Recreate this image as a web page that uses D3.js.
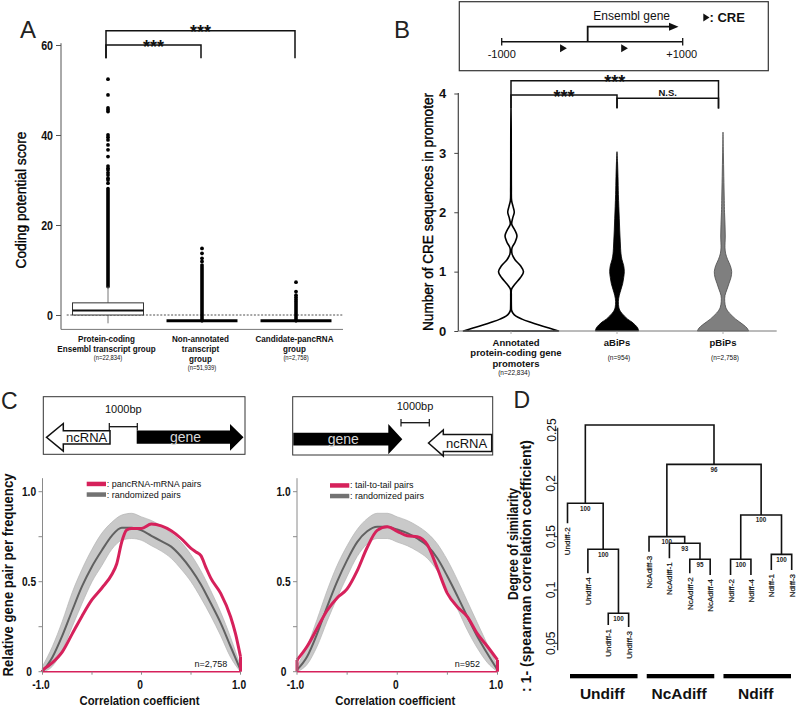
<!DOCTYPE html>
<html><head><meta charset="utf-8">
<script src="https://cdn.jsdelivr.net/npm/d3@7/dist/d3.min.js"></script>
<style>html,body{margin:0;padding:0;background:#fff}svg{display:block}</style>
</head><body>
<svg id="fig" width="796" height="706" xmlns="http://www.w3.org/2000/svg"></svg>
<script>
// ================= DATA =================
// Panel A: coding potential score box plots
const aGroups = ["protein-coding", "non-annotated", "candidate-pancRNA"];
const aLabelLines = [["Protein-coding", "Ensembl transcript group"], ["Non-annotated", "transcript", "group"], ["Candidate-pancRNA", "group"]];
const aCounts = ["(n=22,834)", "(n=51,939)", "(n=2,758)"];
const aQ1 = [0, -1.3, -1.3];
const aMedian = [1.0, -1.3, -1.3];
const aQ3 = [2.7, -1.3, -1.3];
const aWhiskerLow = [-1.85, -1.3, -1.3];
const aWhiskerHigh = [6.3, -1.3, -1.3];
const aDenseLow = [6.3, -1.3, -1.3];      // densely packed outliers (drawn as solid stack)
const aDenseHigh = [28.1, 10.7, 3.0];
const aOutliers = [
  [52.4, 48.9, 46.0, 45.6, 45.2, 40.0, 39.5, 38.9, 37.8, 36.7, 35.2, 33.1, 32.6, 32.2, 31.6, 31.1, 30.4, 30.0, 29.3],
  [14.8, 13.7, 12.6, 11.9, 11.1],
  [7.3, 5.2, 4.4, 3.9, 3.4]
];
const aTicks = [0, 20, 40, 60];
const aSigPairs = [[0, 2], [0, 1]];
const aSigLabels = ["***", "***"];

// Panel B: CRE counts violins
const bGroups = ["annotated", "aBiPs", "pBiPs"];
const bLabelLines = [["Annotated", "protein-coding gene", "promoters"], ["aBiPs"], ["pBiPs"]];
const bCounts = ["(n=22,834)", "(n=954)", "(n=2,758)"];
const bTicks = [0, 1, 2, 3, 4];
const bTickLabels = ["0", "1", "2", "3", "4"];
const bViolinY = [
  [0, 0.05, 0.1, 0.15, 0.2, 0.25, 0.3, 0.35, 0.4, 0.5, 0.6, 0.7, 0.75, 0.8, 0.9, 1.0, 1.1, 1.2, 1.3, 1.4, 1.5, 1.6, 1.7, 1.8, 1.9, 2.0, 2.1, 2.2, 2.4, 2.6, 3.0, 3.4, 3.75],
  [0, 0.05, 0.1, 0.15, 0.2, 0.25, 0.3, 0.35, 0.4, 0.5, 0.6, 0.7, 0.8, 0.9, 1.0, 1.1, 1.2, 1.3, 1.5, 1.7, 1.9, 2.1, 2.3, 2.6, 2.85, 3.02],
  [0, 0.05, 0.1, 0.15, 0.2, 0.25, 0.3, 0.35, 0.4, 0.5, 0.6, 0.7, 0.8, 0.9, 1.0, 1.1, 1.2, 1.3, 1.4, 1.6, 1.8, 2.0, 2.2, 2.6, 3.0, 3.35]
];
const bViolinDensity = [
  [1.0, 0.8, 0.59, 0.4, 0.232, 0.105, 0.042, 0.012, 0.008, 0.006, 0.006, 0.01, 0.046, 0.095, 0.2, 0.263, 0.2, 0.084, 0.022, 0.022, 0.088, 0.126, 0.08, 0.015, 0.035, 0.069, 0.042, 0.012, 0.007, 0.006, 0.005, 0.004, 0],
  [0.457, 0.436, 0.385, 0.316, 0.225, 0.158, 0.101, 0.059, 0.038, 0.029, 0.048, 0.084, 0.12, 0.141, 0.154, 0.141, 0.105, 0.084, 0.069, 0.057, 0.048, 0.038, 0.029, 0.021, 0.011, 0],
  [0.541, 0.505, 0.436, 0.352, 0.267, 0.2, 0.137, 0.088, 0.057, 0.036, 0.042, 0.084, 0.126, 0.168, 0.183, 0.154, 0.099, 0.057, 0.042, 0.048, 0.042, 0.032, 0.027, 0.017, 0.008, 0]
];
const bSigPairs = [[0, 2], [0, 1], [1, 2]];
const bSigLabels = ["***", "***", "N.S."];
const bPromoterEnds = [-1000, 1000];
const bTss = -50;
const bCrePositions = [-355, 320];

// Panel C: correlation coefficient distributions
const cX = [-1, -0.9, -0.8, -0.7, -0.6, -0.5, -0.4, -0.3, -0.2, -0.1, 0, 0.1, 0.2, 0.3, 0.4, 0.5, 0.6, 0.7, 0.8, 0.9, 1.0];
const cLeftMean  = [0, 0.08, 0.2, 0.34, 0.475, 0.585, 0.675, 0.755, 0.8, 0.8, 0.785, 0.755, 0.725, 0.695, 0.64, 0.57, 0.485, 0.38, 0.27, 0.14, 0.01];
const cLeftUpper = [0.03, 0.14, 0.28, 0.44, 0.57, 0.68, 0.77, 0.83, 0.87, 0.88, 0.86, 0.84, 0.81, 0.77, 0.72, 0.65, 0.56, 0.45, 0.33, 0.19, 0.03];
const cLeftLower = [0, 0.03, 0.12, 0.25, 0.38, 0.5, 0.59, 0.68, 0.73, 0.74, 0.73, 0.7, 0.67, 0.63, 0.57, 0.5, 0.41, 0.31, 0.2, 0.08, 0];
const cLeftRedX = [-1, -0.9, -0.8, -0.7, -0.6, -0.5, -0.4, -0.3, -0.25, -0.2, -0.15, -0.1, 0, 0.1, 0.2, 0.3, 0.4, 0.5, 0.55, 0.6, 0.65, 0.7, 0.8, 0.9, 0.95, 1.0];
const cLeftRed  = [0.01, 0.05, 0.11, 0.21, 0.31, 0.40, 0.465, 0.54, 0.60, 0.72, 0.787, 0.796, 0.796, 0.82, 0.81, 0.783, 0.74, 0.685, 0.665, 0.645, 0.58, 0.52, 0.435, 0.305, 0.21, 0.083];
const cRightMean  = [0.01, 0.083, 0.21, 0.36, 0.5, 0.62, 0.72, 0.78, 0.805, 0.805, 0.79, 0.77, 0.74, 0.70, 0.63, 0.53, 0.42, 0.305, 0.194, 0.1, 0.01];
const cRightUpper = [0.03, 0.14, 0.29, 0.45, 0.59, 0.7, 0.79, 0.85, 0.88, 0.88, 0.86, 0.84, 0.81, 0.77, 0.71, 0.62, 0.51, 0.39, 0.27, 0.15, 0.03];
const cRightLower = [0, 0.04, 0.14, 0.28, 0.41, 0.53, 0.64, 0.71, 0.74, 0.74, 0.72, 0.7, 0.67, 0.63, 0.56, 0.46, 0.35, 0.23, 0.13, 0.05, 0];
const cRightRed   = [0.065, 0.14, 0.24, 0.34, 0.41, 0.46, 0.56, 0.69, 0.785, 0.805, 0.78, 0.755, 0.75, 0.705, 0.575, 0.435, 0.36, 0.305, 0.21, 0.14, 0.065];
const cYTicks = [0, 0.25, 0.5, 0.75, 1.0];
const cYTickLabels = ["0", "", "0.5", "", "1.0"];
const cXTicks = [-1, -0.5, 0, 0.5, 1];
const cXTickLabels = ["-1.0", "", "0", "", "1.0"];

// Panel D: dendrogram
const dLeaves = ["Undiff-2", "Undiff-4", "Undiff-1", "Undiff-3", "NcAdiff-3", "NcAdiff-1", "NcAdiff-2", "NcAdiff-4", "Ndiff-2", "Ndiff-4", "Ndiff-1", "Ndiff-3"];
const dLeafEnd = [0.1625, 0.1157, 0.0672, 0.0653, 0.1359, 0.1297, 0.1157, 0.114, 0.114, 0.114, 0.1188, 0.1188];
const dMerge = [[-3, -4], [-2, 1], [-1, 2], [-7, -8], [-6, 4], [-5, 5], [-9, -10], [-11, -12], [7, 8], [6, 9], [3, 10]];
const dHeight = [0.0782, 0.1382, 0.1813, 0.1288, 0.1438, 0.15, 0.1288, 0.1334, 0.1703, 0.2178, 0.2547];
const dBoot = ["100", "100", "100", "95", "93", "100", "100", "100", "100", "96", ""];
const dGroups = ["Undiff", "NcAdiff", "Ndiff"];
const dTicks = [0.05, 0.1, 0.15, 0.2, 0.25];
const dTickLabels = ["0.05", "0.1", "0.15", "0.2", "0.25"];

// ================= DRAWING =================
const FONT = '"Liberation Sans", Arial, Helvetica, sans-serif';
const RED = "#d6215b";
const svg = d3.select("#fig").attr("font-family", FONT);
svg.append("rect").attr("width", 796).attr("height", 706).attr("fill", "#fff");

function T(g, x, y, s, o = {}) {
  const t = g.append("text").attr("x", x).attr("y", y).text(s)
    .attr("font-size", o.size || 10)
    .attr("font-weight", o.weight || "normal")
    .attr("text-anchor", o.anchor || "middle")
    .attr("fill", o.fill || "#111");
  if (o.stroke) t.attr("stroke", o.fill || "#111").attr("stroke-width", o.stroke);
  if (o.rot) t.attr("transform", `rotate(${o.rot},${x},${y})`);
  if (o.len) t.attr("textLength", o.len).attr("lengthAdjust", "spacingAndGlyphs");
  else if (o.sq) {
    const L = t.node().getComputedTextLength();
    t.attr("textLength", L * o.sq).attr("lengthAdjust", "spacingAndGlyphs");
  }
  return t;
}
function L(g, x1, y1, x2, y2, stroke = "#111", w = 1) {
  return g.append("line").attr("x1", x1).attr("y1", y1).attr("x2", x2).attr("y2", y2)
    .attr("stroke", stroke).attr("stroke-width", w);
}
function poly(g, pts, fill, stroke, w) {
  return g.append("polygon").attr("points", pts.map(p => p.join(",")).join(" "))
    .attr("fill", fill).attr("stroke", stroke || "none").attr("stroke-width", w || 0);
}

// ---------- Panel A ----------
const gA = svg.append("g");
T(gA, 20, 38, "A", {size: 24, anchor: "start", fill: "#222"});
const yA = d3.scaleLinear().domain([0, 60]).range([315, 45]);
const xA = d3.scaleBand().domain(aGroups).range([61, 343]);
const cxA = i => xA(aGroups[i]) + xA.bandwidth() / 2;
const boxW = xA.bandwidth() * 0.755;
L(gA, 61, yA(60.4), 61, yA(-3.2), "#555", 1);
L(gA, 61, yA(-3.2), 343, yA(-3.2), "#777", 1);
const axA = gA.append("g").attr("transform", "translate(61,0)")
  .call(d3.axisLeft(yA).tickValues(aTicks).tickFormat(d3.format("d")).tickSize(5).tickPadding(3));
axA.attr("font-family", FONT).attr("font-size", 13);
axA.select(".domain").remove();
axA.selectAll(".tick line").attr("stroke", "#555");
axA.selectAll(".tick text").attr("font-weight", "bold").attr("fill", "#111").each(function () {
  const l = this.getComputedTextLength();
  d3.select(this).attr("textLength", l * 0.82).attr("lengthAdjust", "spacingAndGlyphs");
});
L(gA, 66.7, yA(0), 343, yA(0), "#222", 0.8).attr("stroke-dasharray", "2,1.6");
aGroups.forEach((g, i) => {
  const cx = cxA(i);
  gA.append("line").attr("x1", cx).attr("x2", cx).attr("y1", yA(aDenseLow[i])).attr("y2", yA(aDenseHigh[i]))
    .attr("stroke", "#000").attr("stroke-width", 3.6).attr("stroke-linecap", "round");
  gA.selectAll(null).data(aOutliers[i]).join("circle")
    .attr("cx", cx).attr("cy", d => yA(d)).attr("r", 1.9).attr("fill", "#000");
  if (aQ3[i] > aQ1[i]) {
    L(gA, cx, yA(aQ3[i]), cx, yA(aWhiskerHigh[i]), "#777", 1);
    L(gA, cx, yA(aQ1[i]), cx, yA(aWhiskerLow[i]), "#777", 1);
    gA.append("rect").attr("x", cx - boxW / 2).attr("y", yA(aQ3[i])).attr("width", boxW)
      .attr("height", yA(aQ1[i]) - yA(aQ3[i])).attr("fill", "#fff").attr("stroke", "#333").attr("stroke-width", 1);
    L(gA, cx - boxW / 2, yA(aMedian[i]), cx + boxW / 2, yA(aMedian[i]), "#111", 1.8);
  } else {
    L(gA, cx - boxW / 2, yA(aMedian[i]), cx + boxW / 2, yA(aMedian[i]), "#000", 3);
  }
  aLabelLines[i].forEach((s, j) => T(gA, cx - 1.5, 341.5 + j * 10, s, {size: 9.5, weight: "bold", sq: 0.85}));
  T(gA, cx, 341.5 + (aLabelLines[i].length - 1) * 10 + 8.5, aCounts[i], {size: 6.5, sq: 0.9});
});
T(gA, 25.5, 200, "Coding potential score", {size: 14, rot: -90, len: 137, fill: "#000", stroke: 0.35});
const aBracketY = [30.7, 45];
aSigPairs.forEach(([a, b], k) => {
  const x1 = cxA(a) - 2, x2 = cxA(b) - 1, yb = aBracketY[k];
  gA.append("path").attr("d", `M${x1},58.3V${yb}H${x2}V58.3`).attr("fill", "none")
    .attr("stroke", "#111").attr("stroke-width", 1.5);
  T(gA, (x1 + x2) / 2, yb + 7.5, aSigLabels[k], {size: 18, weight: "bold"});
});

// ---------- Panel B ----------
const gB = svg.append("g");
T(gB, 394, 38, "B", {size: 24, anchor: "start", fill: "#222"});
// schematic
gB.append("rect").attr("x", 459.3).attr("y", 1.7).attr("width", 309).attr("height", 69)
  .attr("fill", "none").attr("stroke", "#333").attr("stroke-width", 1.2);
const xS = d3.scaleLinear().domain(bPromoterEnds).range([501.7, 682.7]);
L(gB, xS(-1000), 41.7, xS(1000), 41.7, "#111", 1.5);
bPromoterEnds.forEach(p => L(gB, xS(p), 38, xS(p), 45.4, "#111", 1.3));
gB.append("path").attr("d", `M${xS(bTss)},41.7V26.7H671`).attr("fill", "none").attr("stroke", "#111").attr("stroke-width", 1.8);
poly(gB, [[669, 22.7], [678.5, 26.7], [669, 30.7]], "#111");
T(gB, 631.7, 19.5, "Ensembl gene", {size: 12});
bCrePositions.forEach(p => poly(gB, [[xS(p), 44.3], [xS(p) + 6.8, 48.3], [xS(p), 52.3]], "#111"));
T(gB, xS(-1000), 58, "-1000", {size: 11});
T(gB, xS(1000) - 1, 58, "+1000", {size: 11});
poly(gB, [[703.3, 13.5], [709.5, 17.5], [703.3, 21.5]], "#111");
T(gB, 709.5, 22, ": CRE", {size: 13, weight: "bold", anchor: "start"});
// violins
const yB = d3.scaleLinear().domain([0, 4]).range([331, 93.5]);
const xB = d3.scaleBand().domain(bGroups).range([458, 776]);
const cxB = i => xB(bGroups[i]) + xB.bandwidth() / 2;
const wB = d3.scaleLinear().domain([0, 1]).range([0, 47.5]);
const vFill = ["#fff", "#000", "#7f7f7f"], vStroke = ["#000", "#000", "#4a4a4a"], vSW = [1.6, 0.8, 0.8];
bViolinY.forEach((ys, i) => {
  const pts = ys.map((v, j) => ({v, d: bViolinDensity[i][j]}));
  const area = d3.area().y(p => yB(p.v)).x0(p => cxB(i) - wB(p.d)).x1(p => cxB(i) + wB(p.d))
    .curve(d3.curveCatmullRom.alpha(0.5));
  gB.append("path").attr("d", area(pts)).attr("fill", vFill[i]).attr("stroke", vStroke[i])
    .attr("stroke-width", vSW[i]).attr("stroke-linejoin", "round");
});
L(gB, 458.3, 93, 458.3, 331, "#444", 1.2);
L(gB, 458.3, 331, 776.7, 331, "#777", 1);
bGroups.forEach((g, i) => L(gB, cxB(i), 331, cxB(i), 334, "#999", 0.8));
const axB = gB.append("g").attr("transform", "translate(458.3,0)")
  .call(d3.axisLeft(yB).tickValues(bTicks).tickFormat((d, k) => bTickLabels[k]).tickSize(4).tickPadding(8));
axB.attr("font-family", FONT).attr("font-size", 13);
axB.select(".domain").remove();
axB.selectAll(".tick line").attr("stroke", "#444");
axB.selectAll(".tick text").attr("font-weight", "bold").attr("fill", "#111");
T(gB, 433, 212, "Number of CRE sequences in promoter", {size: 14, rot: -90, len: 238, fill: "#000", stroke: 0.35});
bGroups.forEach((g, i) => {
  const lines = bLabelLines[i];
  const cx = cxB(i) + (lines.length > 1 ? 5 : 0);
  lines.forEach((s, j) => T(gB, cx, 346 + j * 10.3, s, {size: 9.5, weight: "bold"}));
  const last = 346 + (lines.length - 1) * 10.3;
  T(gB, cx + (lines.length > 1 ? -2 : 2), last + (lines.length > 1 ? 8 : 13.5), bCounts[i], {size: 6.5});
});
const bBracketY = [80.7, 95, 98.3];
bSigPairs.forEach(([a, b], k) => {
  const x1 = cxB(a), x2 = cxB(b) - (b === 2 ? 4.5 : 0), yb = bBracketY[k];
  gB.append("path").attr("d", `M${x1},108V${yb}H${x2}V108.5`).attr("fill", "none")
    .attr("stroke", "#111").attr("stroke-width", 1.5);
  if (bSigLabels[k] === "***") T(gB, (x1 + x2) / 2, yb + 7.5, bSigLabels[k], {size: 18, weight: "bold"});
  else T(gB, (x1 + x2) / 2, yb - 2.5, bSigLabels[k], {size: 9.5, weight: "bold"});
});

// ---------- Panel C ----------
const gC = svg.append("g");
T(gC, 1, 409, "C", {size: 23, anchor: "start", fill: "#222"});
// schematic left (head-to-head)
gC.append("rect").attr("x", 43.3).attr("y", 396.7).attr("width", 201.7).attr("height", 57.6)
  .attr("fill", "none").attr("stroke", "#333").attr("stroke-width", 1);
poly(gC, [[136.7, 430.5], [230, 430.5], [230, 424], [243.5, 437.3], [230, 450.7], [230, 443.8], [136.7, 443.8]], "#000");
poly(gC, [[46.5, 437.3], [63.3, 423.5], [63.3, 430.7], [110, 430.7], [110, 444], [63.3, 444], [63.3, 451.2]], "#fff", "#111", 1.5);
T(gC, 185.5, 442, "gene", {size: 14, fill: "#d8d8d8"});
T(gC, 86.7, 441.7, "ncRNA", {size: 13});
L(gC, 109.3, 426.7, 137.3, 426.7, "#111", 1.3);
L(gC, 109.3, 423, 109.3, 430.4, "#111", 1.2);
L(gC, 137.3, 423, 137.3, 430.4, "#111", 1.2);
T(gC, 123.3, 412.5, "1000bp", {size: 11});
// schematic right (tail-to-tail)
gC.append("rect").attr("x", 292.7).attr("y", 396.7).attr("width", 200).attr("height", 58.3)
  .attr("fill", "none").attr("stroke", "#333").attr("stroke-width", 1);
poly(gC, [[293.3, 432.7], [388.3, 432.7], [388.3, 424], [402.3, 439.2], [388.3, 454.3], [388.3, 445.5], [293.3, 445.5]], "#000");
poly(gC, [[428.5, 443], [443.3, 430], [443.3, 434.5], [491.7, 434.5], [491.7, 451.5], [443.3, 451.5], [443.3, 456]], "#fff", "#111", 1.5);
T(gC, 343.3, 444, "gene", {size: 14, fill: "#d8d8d8"});
T(gC, 466.5, 447.5, "ncRNA", {size: 13});
L(gC, 401, 422.7, 429.3, 422.7, "#111", 1.3);
L(gC, 401, 419, 401, 426.4, "#111", 1.2);
L(gC, 429.3, 419, 429.3, 426.4, "#111", 1.2);
T(gC, 415, 409.5, "1000bp", {size: 11});

const yC = d3.scaleLinear().domain([0, 1]).range([671.7, 491.7]);
function curvePanel(xS2, mean, upper, lower, redX, red, legendX, legendTop, legendText, nText) {
  const g = gC.append("g");
  const band = d3.area().x((d, j) => xS2(cX[j])).y0((d, j) => yC(lower[j])).y1(d => yC(d)).curve(d3.curveMonotoneX);
  g.append("path").datum(upper).attr("d", band).attr("fill", "#c9c9c9").attr("stroke", "#b3b3b3").attr("stroke-width", 0.7);
  const lineM = d3.line().x((d, j) => xS2(cX[j])).y(d => yC(d)).curve(d3.curveMonotoneX);
  g.append("path").datum(mean).attr("d", lineM).attr("fill", "none").attr("stroke", "#616161").attr("stroke-width", 2);
  const lineR = d3.line().x((d, j) => xS2(redX[j])).y(d => yC(d)).curve(d3.curveMonotoneX);
  g.append("path").datum(red).attr("d", lineR).attr("fill", "none").attr("stroke", RED).attr("stroke-width", 3)
    .attr("stroke-linejoin", "round");
  L(g, xS2(redX[0]), yC(red[0]), xS2(redX[0]), yC(0), RED, 3);
  L(g, xS2(redX[redX.length - 1]), yC(red[red.length - 1]), xS2(redX[redX.length - 1]), yC(0), RED, 3);
  // axes
  L(g, xS2(-1), yC(1.075), xS2(-1), yC(0), "#8a8a8a", 1);
  L(g, xS2(-1), yC(0), xS2(1), yC(0), RED, 1.5);
  cYTicks.forEach((t, k) => {
    L(g, xS2(-1) - 4, yC(t), xS2(-1), yC(t), "#8a8a8a", 1);
    if (cYTickLabels[k]) T(g, xS2(-1) - 13.5, yC(t) + 4.3, cYTickLabels[k], {size: 12, weight: "bold", sq: 0.85});
  });
  cXTicks.forEach((t, k) => {
    L(g, xS2(t), yC(0), xS2(t), yC(0) + 3, "#8a8a8a", 1);
    if (cXTickLabels[k]) T(g, xS2(t) - 1.5, 689.3, cXTickLabels[k], {size: 12, weight: "bold", sq: 0.85});
  });
  T(g, xS2(0) - 2, 704.5, "Correlation coefficient", {size: 13.5, weight: "bold", len: 120});
  // legend
  g.append("rect").attr("x", legendX).attr("y", legendTop).attr("width", 19.3).attr("height", 4.5).attr("fill", RED);
  g.append("rect").attr("x", legendX).attr("y", legendTop + 10.6).attr("width", 19.3).attr("height", 4.5).attr("fill", "#727272");
  T(g, legendX + 20, legendTop + 5, legendText, {size: 9, anchor: "start"});
  T(g, legendX + 20, legendTop + 15.8, ": randomized pairs", {size: 9, anchor: "start"});
  T(g, xS2(0.7), 666.5, nText, {size: 9});
}
const xCL = d3.scaleLinear().domain([-1, 1]).range([42.5, 240.5]);
const xCR = d3.scaleLinear().domain([-1, 1]).range([297, 497.5]);
curvePanel(xCL, cLeftMean, cLeftUpper, cLeftLower, cLeftRedX, cLeftRed, 86.7, 481.7, ": pancRNA-mRNA pairs", "n=2,758");
curvePanel(xCR, cRightMean, cRightUpper, cRightLower, cX, cRightRed, 330, 483.2, ": tail-to-tail pairs", "n=952");
T(gC, 13, 575, "Relative gene pair per frequency", {size: 14, weight: "bold", rot: -90, len: 203});

// ---------- Panel D ----------
const gD = svg.append("g");
T(gD, 513.5, 408, "D", {size: 23, anchor: "start", fill: "#222"});
const xD = d3.scalePoint().domain(dLeaves).range([567.5, 791.7]);
const yD = d3.scaleLinear().domain([0.05, 0.25]).range([643.3, 430]);
L(gD, 557.7, yD(0.252), 557.7, yD(0.0435), "#222", 1.2);
dTicks.forEach((t, k) => {
  L(gD, 554.5, yD(t), 557.7, yD(t), "#222", 1);
  T(gD, 555.5, yD(t), dTickLabels[k], {size: 12, rot: -90});
});
T(gD, 517.5, 544, "Degree of similarity", {size: 14, weight: "bold", rot: -90, len: 112});
T(gD, 531, 566, ": 1- (spearman correlation coefficient)", {size: 14, weight: "bold", rot: -90, len: 252});
const nodeX = [], nodeH = [];
const childX = c => c < 0 ? xD(dLeaves[-c - 1]) : nodeX[c - 1];
const childTop = c => c < 0 ? dLeafEnd[-c - 1] : nodeH[c - 1];
dMerge.forEach(([a, b], k) => {
  const h = dHeight[k];
  const xa = childX(a), xb = childX(b);
  nodeX[k] = (xa + xb) / 2; nodeH[k] = h;
  gD.append("path").attr("d", `M${xa},${yD(childTop(a))}V${yD(h)}H${xb}V${yD(childTop(b))}`)
    .attr("fill", "none").attr("stroke", "#111").attr("stroke-width", 1.6);
  if (dBoot[k]) T(gD, nodeX[k], yD(h) + 7.3, dBoot[k], {size: 6.3, weight: "bold", fill: "#222"});
});
dLeaves.forEach((s, i) => {
  const x = xD(s), y = yD(dLeafEnd[i]) + 4;
  T(gD, x + 3, y, s, {size: 8, anchor: "end", rot: -90, stroke: 0.2});
});
const xG = d3.scaleBand().domain(dGroups).range([570, 791]).paddingInner(0.12);
dGroups.forEach(g => {
  gD.append("rect").attr("x", xG(g)).attr("y", 674).attr("width", xG.bandwidth()).attr("height", 4.3).attr("fill", "#000");
  T(gD, xG(g) + xG.bandwidth() / 2 - 1.5, 699, g, {size: 15.5, weight: "bold"});
});
</script>
</body></html>
